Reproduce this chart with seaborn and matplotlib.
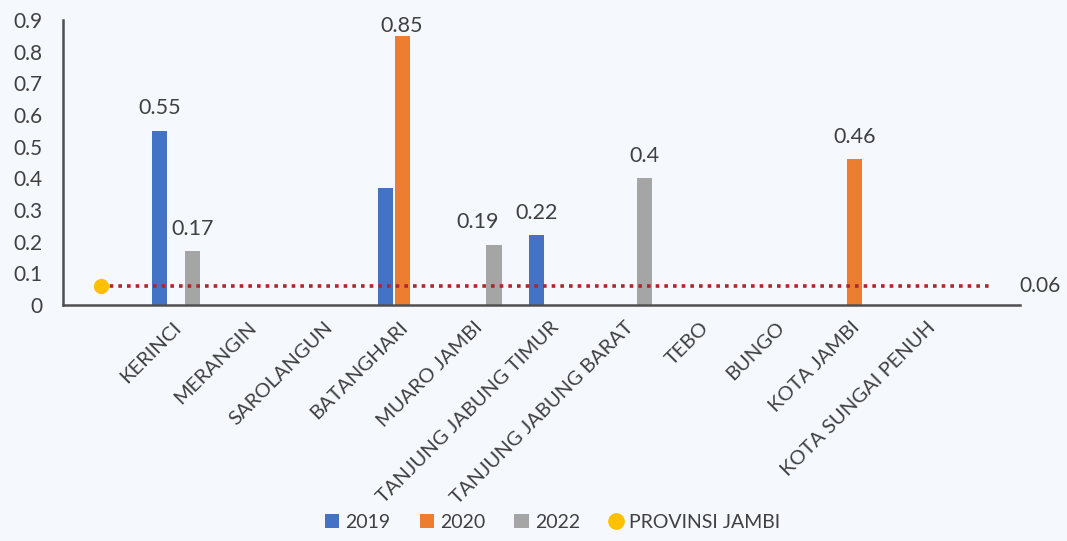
import numpy as np
import pandas as pd
import matplotlib
matplotlib.use('Agg')
import matplotlib.pyplot as plt
import matplotlib.transforms as mtransforms
from matplotlib.patches import Patch
from matplotlib.lines import Line2D
from matplotlib.ticker import FuncFormatter
import seaborn as sns

# data
regions = ['', 'KERINCI', 'MERANGIN', 'SAROLANGUN', 'BATANGHARI', 'MUARO JAMBI',
           'TANJUNG JABUNG TIMUR', 'TANJUNG JABUNG BARAT', 'TEBO', 'BUNGO',
           'KOTA JAMBI', 'KOTA SUNGAI PENUH']
years = ['2019', '2020', '2022']
v2019 = [np.nan, 0.55, np.nan, np.nan, 0.37, np.nan, 0.22, np.nan, np.nan, np.nan, np.nan, np.nan]
v2020 = [np.nan, np.nan, np.nan, np.nan, 0.85, np.nan, np.nan, np.nan, np.nan, np.nan, 0.46, np.nan]
v2022 = [np.nan, 0.17, np.nan, np.nan, np.nan, 0.19, np.nan, 0.40, np.nan, np.nan, np.nan, np.nan]
provinsi = 0.06
# the 2019 BATANGHARI bar has no data label in the original
no_label = {'2019': [0.37]}

colors = {'2019': '#4472C4', '2020': '#ED7D31', '2022': '#A5A5A5'}
prov_color = '#FFC000'
line_color = '#B0262B'
text_color = '#404040'
bg = '#F5F8FD'

df = pd.DataFrame({
    'wilayah': regions * 3,
    'tahun': [y for y in years for _ in regions],
    'nilai': v2019 + v2020 + v2022,
}).dropna()

plt.rcParams['font.family'] = ['Lato', 'DejaVu Sans']

fig = plt.figure(figsize=(10.67, 5.41), dpi=100, facecolor=bg)
ax = fig.add_axes([0.059, 0.436, 0.897, 0.527])
ax.set_facecolor(bg)

sns.barplot(data=df, x='wilayah', y='nilai', hue='tahun', order=regions,
            hue_order=years, palette=colors, width=0.66, gap=0.09,
            saturation=1, legend=False, ax=ax)
ax.set_ylim(0, 0.9)

# data labels
for cont, yr in zip(ax.containers, years):
    hide = no_label.get(yr, [])
    labs = []
    for b in cont:
        h = b.get_height()
        if np.isnan(h) or any(abs(h - v) < 1e-9 for v in hide):
            labs.append('')
        else:
            labs.append(f'{h:g}')
    anns = ax.bar_label(cont, labels=labs, padding=9, fontsize=15.5, color=text_color)
    for a, b in zip(anns, cont):
        h = b.get_height()
        if h > 0.8:
            # near the top of the plot area the label sits on the bar
            a.xyann = (0, 0)
        elif yr == '2022' and abs(h - 0.19) < 1e-9:
            # nudged left so it does not run into the 0.22 label
            a.xyann = (-12, 9)

# provincial line
x_end = len(regions) - 0.2
ax.plot([0, x_end], [provinsi, provinsi], color=line_color, lw=2.6,
        linestyle=(0, (1, 1.4)), zorder=3)
ax.plot([0], [provinsi], marker='o', ms=10, color=prov_color, zorder=4, lw=0)
ax.annotate(f'{provinsi:g}', (x_end, provinsi), xytext=(21, 0),
            textcoords='offset points', va='center', ha='left',
            fontsize=15, color=text_color, annotation_clip=False)

ax.set_xlim(-0.5, len(regions) + 0.2)
ax.set_yticks(np.arange(0, 0.91, 0.1))
ax.yaxis.set_major_formatter(FuncFormatter(lambda v, p: f'{v:.1f}'.rstrip('0').rstrip('.') if v else '0'))
ax.tick_params(axis='y', length=0, pad=15, labelsize=15, labelcolor=text_color)
ax.tick_params(axis='x', length=0, pad=14, labelsize=14.5, labelcolor=text_color)
ax.set_xticks(range(len(regions)))
ax.set_xticklabels(regions, rotation=45, ha='right', va='center', rotation_mode='anchor')
shift = mtransforms.ScaledTranslation(2 / 72, 0, fig.dpi_scale_trans)
for lab in ax.get_xticklabels():
    lab.set_transform(lab.get_transform() + shift)
ax.set_xlabel('')
ax.set_ylabel('')
for s in ['top', 'right']:
    ax.spines[s].set_visible(False)
for s in ['left', 'bottom']:
    ax.spines[s].set_visible(True)
    ax.spines[s].set_color('#505050')
    ax.spines[s].set_linewidth(1.8)
    ax.spines[s].set_zorder(5)

handles = [Patch(facecolor=colors[y], label=y) for y in years]
handles.append(Line2D([], [], marker='o', lw=0, ms=11, color=prov_color, label='PROVINSI JAMBI'))
leg = fig.legend(handles=handles, loc='center', bbox_to_anchor=(0.518, 0.035), ncol=4,
                 frameon=False, fontsize=14, handlelength=0.75, handleheight=0.75,
                 handletextpad=0.3, columnspacing=1.5)
for t in leg.get_texts():
    t.set_color(text_color)

fig.savefig('out.png', dpi=100, facecolor=bg)
